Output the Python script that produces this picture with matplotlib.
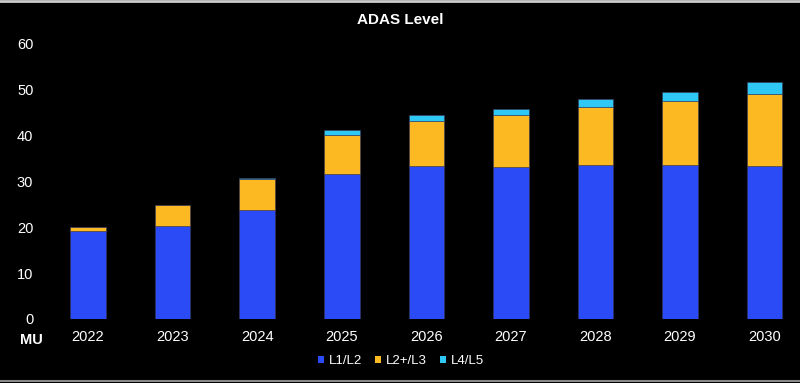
import matplotlib.pyplot as plt
import numpy as np
from matplotlib.lines import Line2D
from matplotlib.patches import Patch

plt.rcParams['font.family'] = ['Liberation Sans', 'DejaVu Sans']

years = ['2022', '2023', '2024', '2025', '2026', '2027', '2028', '2029', '2030']
l1_l2 = [19.1, 20.4, 23.8, 31.6, 33.3, 33.1, 33.6, 33.5, 33.4]
l2p_l3 = [1.0, 4.5, 6.8, 8.6, 10.0, 11.4, 12.6, 14.0, 15.6]
l4_l5 = [0.0, 0.0, 0.2, 1.1, 1.2, 1.4, 1.7, 2.0, 2.6]
series_names = ['L1/L2', 'L2+/L3', 'L4/L5']
colors = ['#2a4bf5', '#fcb922', '#2fc8f5']

W, H = 800, 383
fig = plt.figure(figsize=(W / 100, H / 100), dpi=100, facecolor='black')
# axes placed in pixel terms: x from 50 to 795, y from 319 (0) to 44 (60)
ax = fig.add_axes([50 / W, (H - 319) / H, 745 / W, (319 - 44) / H])
ax.set_facecolor('black')

x = np.arange(len(years))
bw = 0.42
b1 = np.array(l1_l2)
b2 = b1 + np.array(l2p_l3)
ax.bar(x, l1_l2, bw, color=colors[0], edgecolor='#3a3a5a', linewidth=0.4)
ax.bar(x, l2p_l3, bw, bottom=b1, color=colors[1], edgecolor='#3a3a5a', linewidth=0.4)
ax.bar(x, l4_l5, bw, bottom=b2, color=colors[2], edgecolor='#3a3a5a', linewidth=0.4)

ax.set_xlim(-0.45, 8.36)
ax.set_ylim(0, 60)
ax.set_yticks(range(0, 61, 10))
ax.set_xticks(x)
ax.set_xticklabels(years)
for s in ax.spines.values():
    s.set_visible(False)
ax.tick_params(length=0, colors='white', labelsize=10.5)
ax.tick_params(axis='y', pad=12)
ax.tick_params(axis='x', pad=8)

fig.text(400 / W, 1 - 20 / H, 'ADAS Level', color='white', fontsize=11,
         fontweight='bold', ha='center', va='center')
fig.text(31 / W, 1 - 340 / H, 'MU', color='white', fontsize=10.5,
         fontweight='bold', ha='center', va='center')

handles = [Patch(facecolor=c, edgecolor='none') for c in colors]
leg = fig.legend(handles, series_names, loc='center', bbox_to_anchor=(401 / W, 1 - 361 / H),
                 ncol=3, frameon=False, fontsize=9.5, handlelength=0.45, handleheight=0.45,
                 handletextpad=0.35, columnspacing=1.0, labelcolor='white')

# light border lines at top and bottom of the screenshot
fig.add_artist(Line2D([0, 1], [1 - 1 / H, 1 - 1 / H], color='#cccccc', lw=2, transform=fig.transFigure))
fig.add_artist(Line2D([0, 1], [2 / H, 2 / H], color='#888888', lw=1.5, transform=fig.transFigure))

fig.savefig('out.png', dpi=100, facecolor='black')
